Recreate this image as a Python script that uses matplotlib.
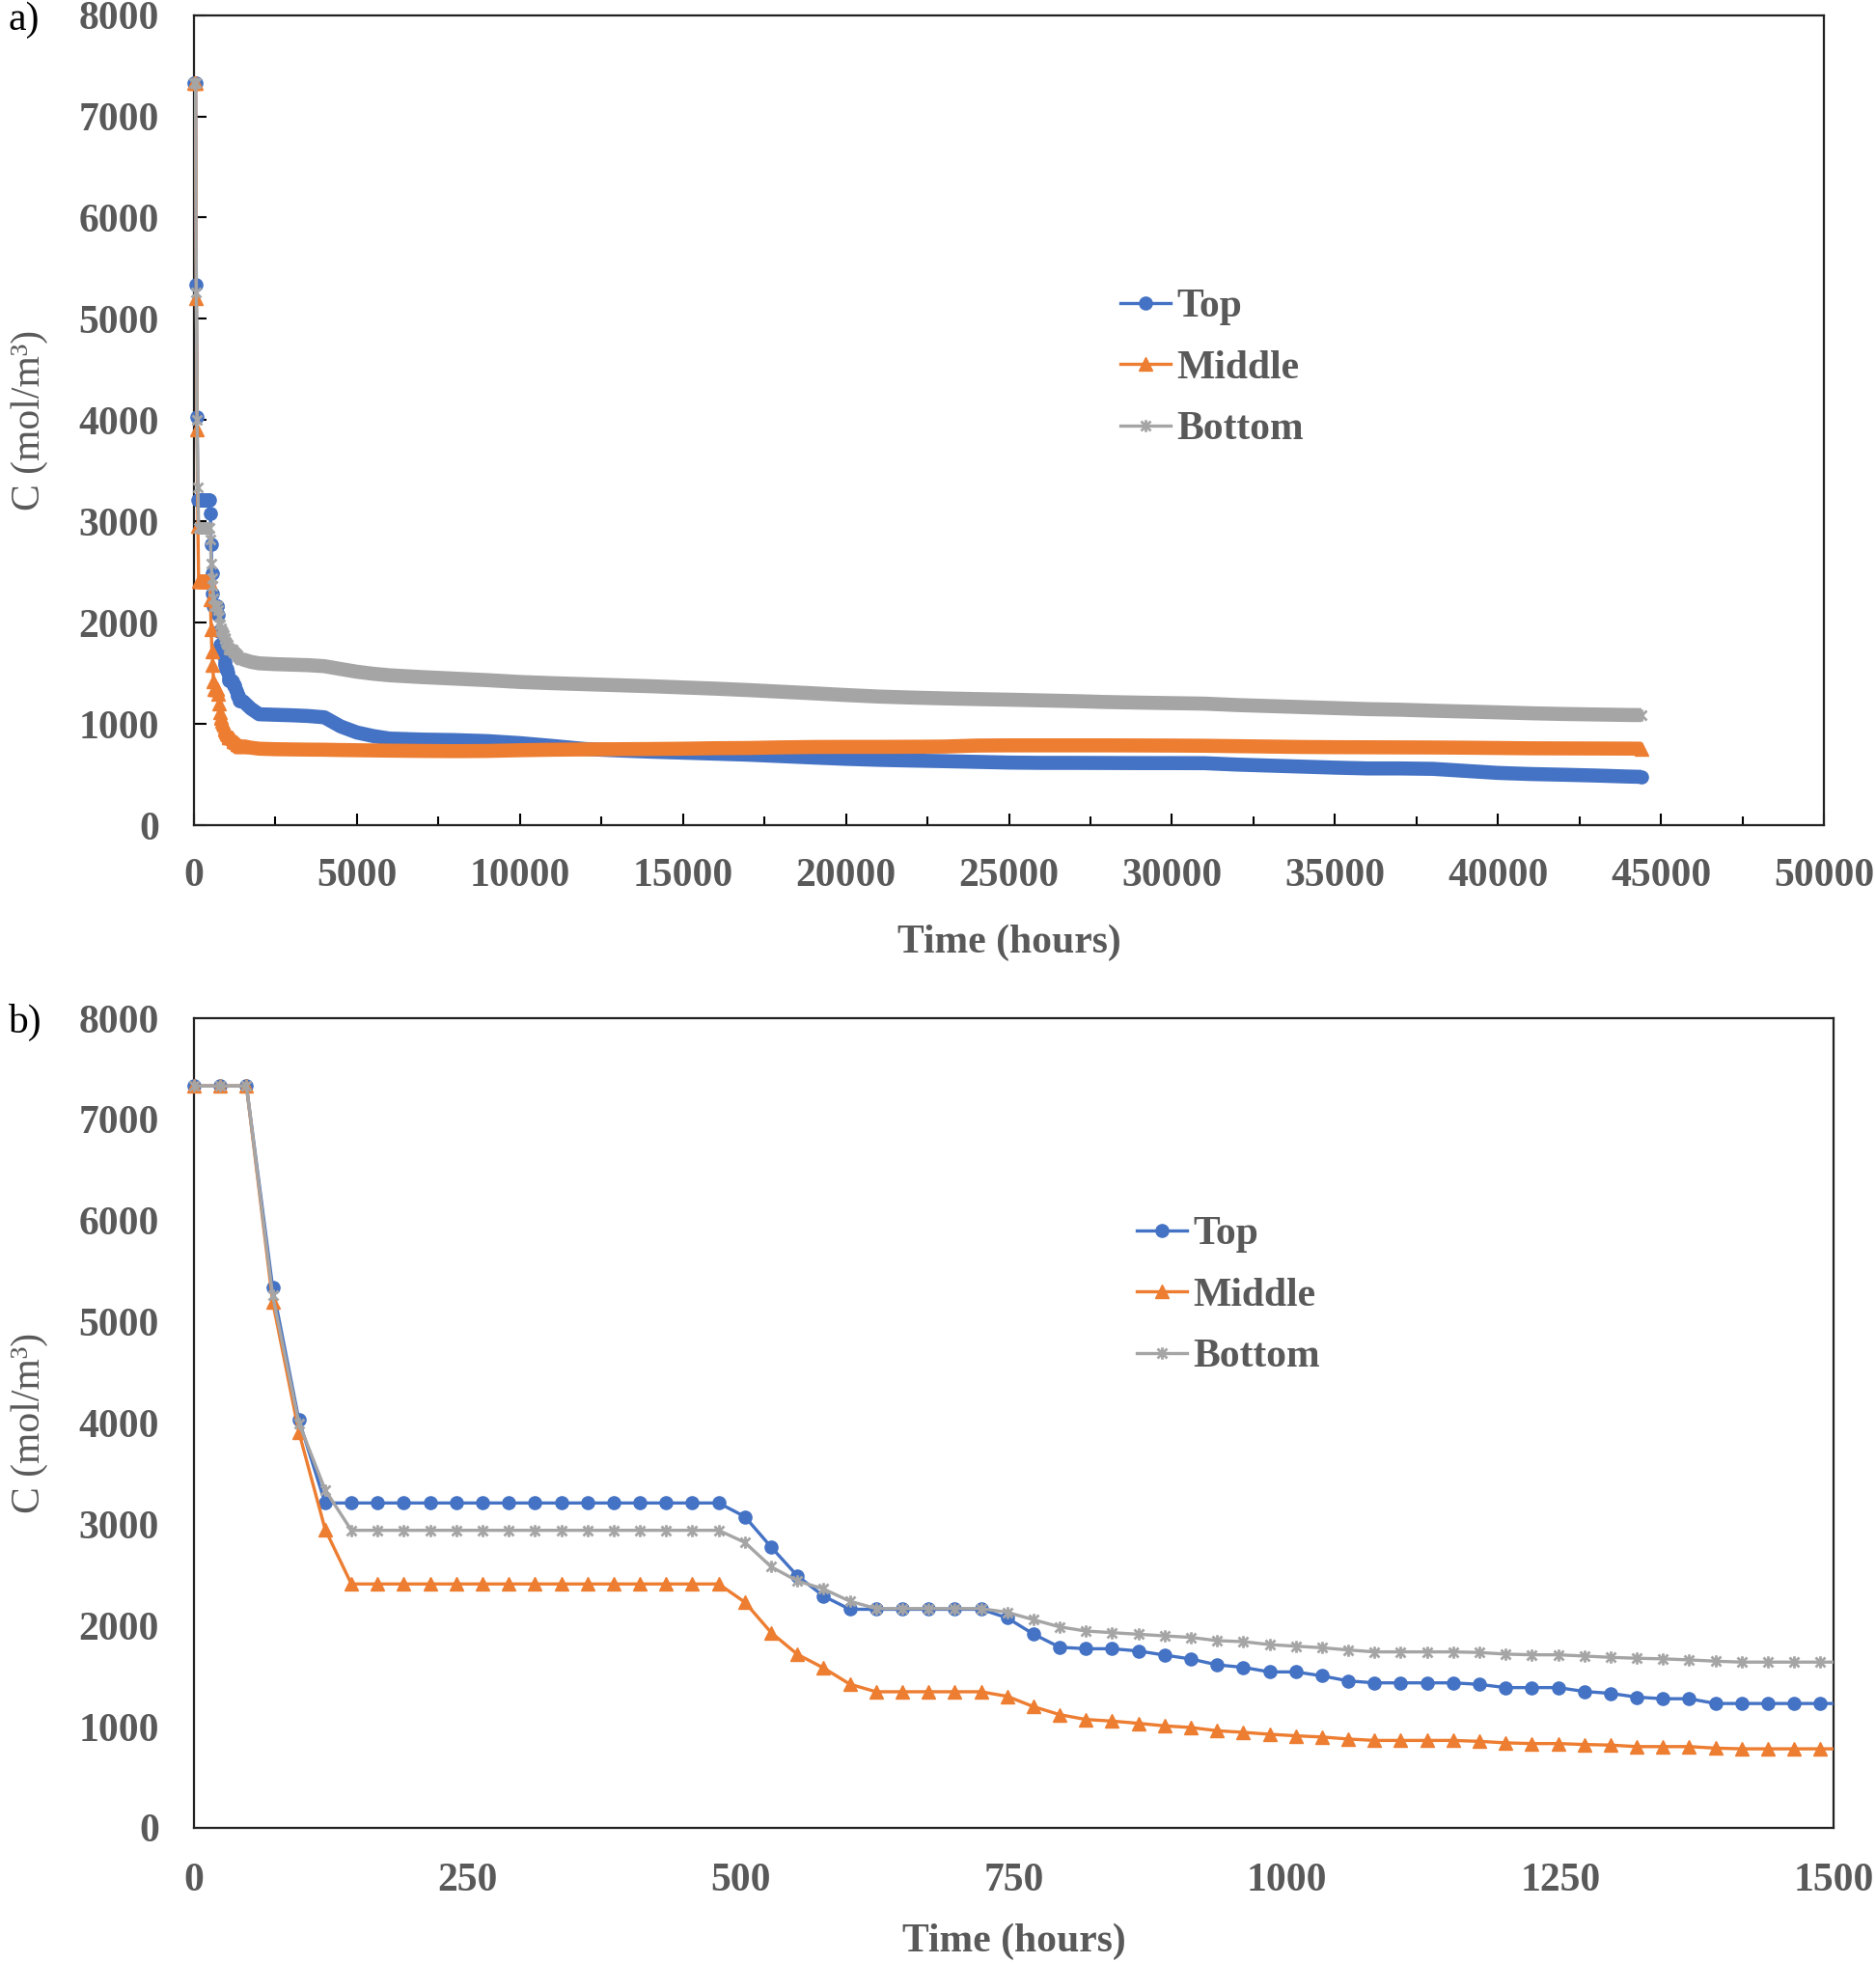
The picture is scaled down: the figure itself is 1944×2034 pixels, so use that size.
import numpy as np
import matplotlib
matplotlib.use("Agg")
import matplotlib.pyplot as plt
from matplotlib.path import Path
from matplotlib.lines import Line2D
from matplotlib.ticker import MultipleLocator

# ---------------- data ----------------
series_names = ["Top", "Middle", "Bottom"]
series_colors = ["#4472C4", "#ED7D31", "#A5A5A5"]

# first 1512 h, one value every 24 h
t_short = np.arange(0, 1513, 24)
top_short = [7330, 7330, 7330, 5340, 4030, 3210,
             3210, 3210, 3210, 3210, 3210, 3210, 3210, 3210, 3210, 3210, 3210, 3210, 3210, 3210, 3210,
             3075, 2775, 2490, 2290, 2160,
             2160, 2160, 2160, 2160, 2160,
             2075, 1915, 1785, 1770, 1770, 1748, 1707, 1669, 1611, 1586, 1541, 1541, 1502, 1452,
             1433, 1433, 1433, 1433, 1418, 1386, 1386, 1386, 1348, 1329, 1292, 1276, 1276,
             1229, 1229, 1229, 1229, 1229, 1229]
middle_short = [7330, 7330, 7330, 5200, 3910, 2950,
                2410, 2410, 2410, 2410, 2410, 2410, 2410, 2410, 2410, 2410, 2410, 2410, 2410, 2410, 2410,
                2230, 1930, 1715, 1580, 1420,
                1345, 1345, 1345, 1345, 1345,
                1300, 1198, 1119, 1071, 1055, 1033, 1008, 992, 960, 944, 925, 910, 898, 878,
                864, 864, 864, 864, 855, 840, 833, 833, 824, 818, 803, 803, 803,
                788, 781, 781, 781, 781, 781]
bottom_short = [7330, 7330, 7330, 5260, 4000, 3340,
                2940, 2940, 2940, 2940, 2940, 2940, 2940, 2940, 2940, 2940, 2940, 2940, 2940, 2940, 2940,
                2820, 2580, 2440, 2360, 2240,
                2167, 2167, 2167, 2167, 2167,
                2130, 2057, 1986, 1945, 1929, 1913, 1897, 1882, 1850, 1840, 1811, 1795, 1780, 1758,
                1739, 1739, 1739, 1739, 1733, 1717, 1710, 1710, 1698, 1685, 1676, 1670, 1660,
                1647, 1638, 1638, 1638, 1638, 1638]

# long-term values (hours)
t_long = [1750, 2000, 2500, 3000, 3500, 4000, 4500, 5000, 5500,
          6000, 7000, 8000, 9000, 10000, 11000, 12000, 13000, 14000, 15000,
          16000, 17000, 18000, 19000, 20000, 21000, 22000, 23000, 24000, 25000,
          26000, 27000, 28000, 29000, 30000, 31000, 32000, 33000, 34000, 35000,
          36000, 37000, 38000, 39000, 40000, 41000, 42000, 43000, 44000, 44400]
top_long = [1150, 1095, 1090, 1085, 1078, 1065, 975, 915, 880,
            855, 845, 840, 830, 810, 782, 752, 738, 726, 716,
            706, 696, 682, 668, 655, 645, 638, 632, 625, 618,
            615, 615, 614, 613, 613, 612, 598, 588, 578, 568,
            560, 560, 556, 536, 516, 505, 498, 490, 480, 477]
middle_long = [765, 755, 750, 748, 746, 745, 742, 740, 738,
               736, 733, 731, 733, 740, 745, 748, 750, 752, 755,
               760, 762, 768, 772, 773, 773, 774, 776, 786, 788,
               788, 788, 788, 787, 786, 784, 780, 776, 772, 770,
               769, 768, 767, 765, 762, 759, 758, 757, 756, 755]
bottom_long = [1612, 1598, 1590, 1585, 1580, 1570, 1542, 1515, 1495,
               1480, 1462, 1447, 1432, 1414, 1402, 1392, 1382, 1372, 1360,
               1348, 1334, 1318, 1302, 1285, 1270, 1260, 1252, 1245, 1239,
               1232, 1225, 1216, 1210, 1205, 1200, 1186, 1176, 1166, 1156,
               1146, 1140, 1130, 1122, 1114, 1105, 1098, 1093, 1088, 1087]

y_ticks = [0, 1000, 2000, 3000, 4000, 5000, 6000, 7000, 8000]
xa_ticks = [0, 5000, 10000, 15000, 20000, 25000, 30000, 35000, 40000, 45000, 50000]
xb_ticks = [0, 250, 500, 750, 1000, 1250, 1500]

# ---------------- style ----------------
SERIF = "Liberation Serif"
TXT = "#595959"
FS = 30
star = Path([(-1, -1), (1, 1), (-1, 1), (1, -1), (0, -1.25), (0, 1.25)],
            [Path.MOVETO, Path.LINETO, Path.MOVETO, Path.LINETO, Path.MOVETO, Path.LINETO])
markers = ["o", "^", star]
msizes = [9.5, 9.5, 9.0]

W, H = 1944, 2034
fig = plt.figure(figsize=(W / 100, H / 100), dpi=100)

def fx(px):
    return px / W

def fy(py):
    return 1 - py / H

ax_a = fig.add_axes([fx(201), fy(855), fx(1890 - 201), (855 - 15.6) / H])
ax_b = fig.add_axes([fx(201), fy(1894), fx(1900 - 201), (1894 - 1055) / H])

short_vals = [top_short, middle_short, bottom_short]
long_vals = [top_long, middle_long, bottom_long]


def mk_kw(i):
    if i == 2:
        return dict(marker=markers[i], ms=msizes[i], mfc="none", mec=series_colors[i], mew=2.0)
    return dict(marker=markers[i], ms=msizes[i], mfc=series_colors[i], mec=series_colors[i], mew=1.0)


# ---- panel a ----
for i in range(3):
    c = series_colors[i]
    ts = list(t_short[:-1]) + t_long
    vs = list(short_vals[i][:-1]) + long_vals[i]
    ax_a.plot(ts, vs, color=c, lw=2.4, zorder=3 + i)
    ax_a.plot(t_short[:-1], short_vals[i][:-1], ls="none", clip_on=False, zorder=3 + i, **mk_kw(i))
    tt = [t_short[-2]] + t_long
    vv = [short_vals[i][-2]] + long_vals[i]
    ax_a.plot(tt, vv, color=c, lw=10.5, solid_capstyle="butt", solid_joinstyle="round", zorder=3 + i)
    ax_a.plot(t_long[-1:], long_vals[i][-1:], ls="none", clip_on=False, zorder=3 + i, **mk_kw(i))

ax_a.set_xlim(0, 50000)
ax_a.set_ylim(0, 8000)
ax_a.set_xticks(xa_ticks)
ax_a.xaxis.set_minor_locator(MultipleLocator(2500))
ax_a.set_yticks(y_ticks)
ax_a.tick_params(axis="x", which="major", direction="in", length=8.5, width=1.5, pad=24.5, colors="#000000")
ax_a.tick_params(axis="x", which="minor", direction="in", length=6.5, width=1.5)
ax_a.tick_params(axis="y", which="major", direction="in", length=9.5, width=1.5, pad=26)

# ---- panel b ----
for i in range(3):
    c = series_colors[i]
    ax_b.plot(t_short, short_vals[i], color=c, lw=2.4, zorder=3 + i)
    ax_b.plot(t_short[:-1], short_vals[i][:-1], ls="none", clip_on=False, zorder=3 + i, **mk_kw(i))

ax_b.set_xlim(0, 1500)
ax_b.set_ylim(0, 8000)
ax_b.set_xticks(xb_ticks)
ax_b.set_yticks(y_ticks)
ax_b.tick_params(axis="both", length=0)
ax_b.tick_params(axis="x", pad=26)
ax_b.tick_params(axis="y", pad=26)

for ax in (ax_a, ax_b):
    for sp in ax.spines.values():
        sp.set_linewidth(1.6)
        sp.set_color("#222222")
    for lab in ax.get_xticklabels() + ax.get_yticklabels():
        lab.set_fontfamily(SERIF)
        lab.set_fontweight("bold")
        lab.set_fontsize(FS)
        lab.set_color(TXT)
    ax.set_xlabel("Time (hours)", fontfamily=SERIF, fontweight="bold", fontsize=FS, color=TXT)
    ax.set_ylabel("C (mol/m³)", fontfamily=SERIF, fontsize=FS, color=TXT)

ax_a.xaxis.set_label_coords(0.5, (855 - 958) / 839.4)
ax_b.xaxis.set_label_coords(0.5, (1894 - 1993) / 839.0)
ax_a.yaxis.set_label_coords((50 - 201) / 1689, 0.5)
ax_b.yaxis.set_label_coords((50 - 201) / 1699, 0.5)

# legends
def handles():
    hs = []
    for i in range(3):
        hs.append(Line2D([], [], color=series_colors[i], lw=2.4, **mk_kw(i)))
    return hs

leg_kw = dict(frameon=False, loc="upper left", borderpad=0, borderaxespad=0,
              handlelength=1.25, handletextpad=0.15, labelspacing=0.61, numpoints=1,
              prop=dict(family=SERIF, weight="bold", size=FS), labelcolor=TXT)
ax_a.legend(handles(), series_names, bbox_to_anchor=(fx(1161), fy(299)),
            bbox_transform=fig.transFigure, **leg_kw)
ax_b.legend(handles(), series_names, bbox_to_anchor=(fx(1178), fy(1260)),
            bbox_transform=fig.transFigure, **leg_kw)

fig.text(fx(8), fy(2), "a)", fontfamily=SERIF, fontsize=FS, color="black", ha="left", va="top")
fig.text(fx(8), fy(1040), "b)", fontfamily=SERIF, fontsize=FS, color="black", ha="left", va="top")

fig.savefig("out.png", dpi=100)
